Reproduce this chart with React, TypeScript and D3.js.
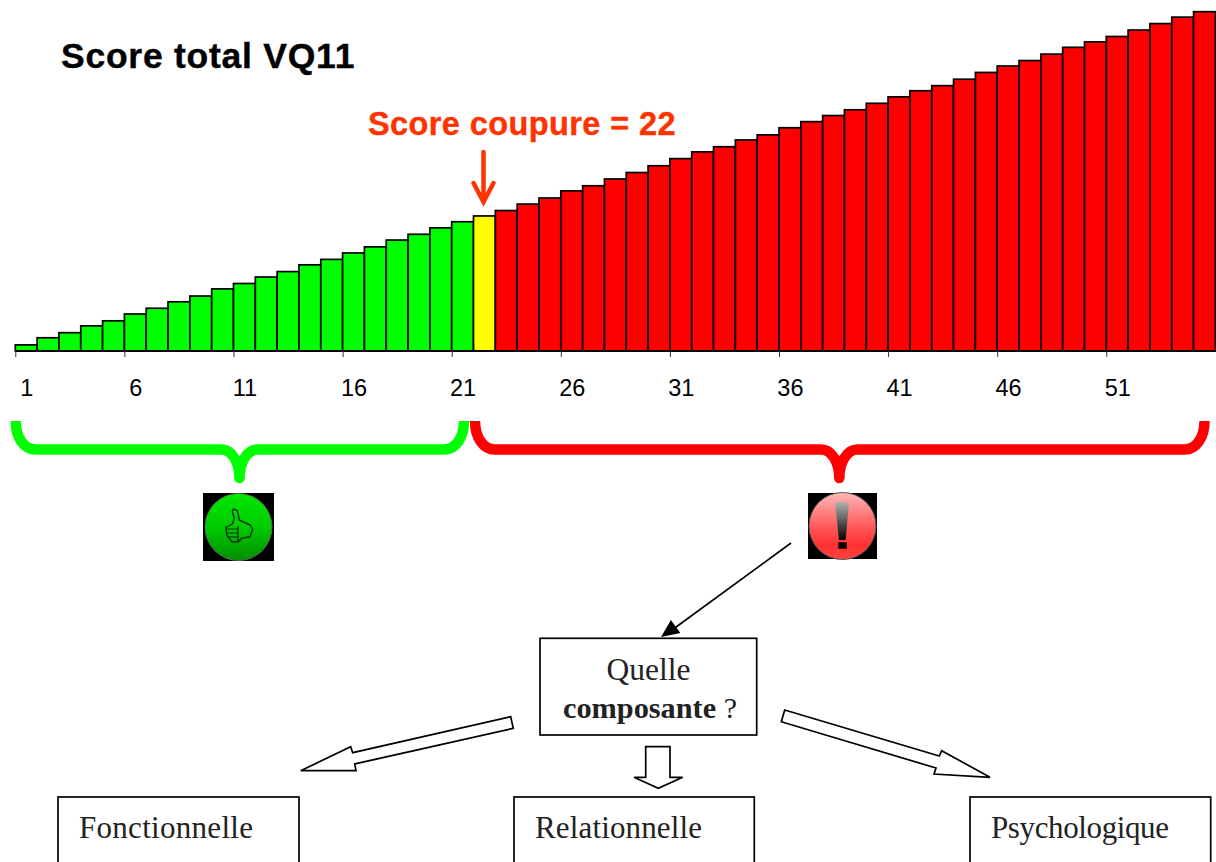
import React, { useEffect, useRef } from 'react';
import * as d3 from 'd3';

// cumulative share per score
const cumulative = [
  1.8, 3.9, 5.4, 7.4, 8.9, 10.9, 12.6, 14.5, 16.2, 18.3, 19.9, 21.8, 23.4, 25.4, 27.0, 28.9, 30.7, 32.7, 34.4, 36.3, 38.1,
  39.8,
  41.4, 43.3, 45.1, 47.2, 48.7, 50.7, 52.6, 54.6, 56.7, 58.7, 60.2, 62.2, 63.7, 65.8, 67.6, 69.4, 71.1, 73.0, 74.9, 76.7,
  78.2, 80.1, 82.1, 84.0, 85.6, 87.5, 89.5, 91.1, 92.7, 94.6, 96.5, 98.4, 100,
];
const tickRanks = [1, 6, 11, 16, 21, 26, 31, 36, 41, 46, 51];
const cutoff = 22;
const title = 'Score total VQ11';
const cutoffLabel = 'Score coupure = 22';
const components = ['Fonctionnelle', 'Relationnelle', 'Psychologique'];

const SANS = '"Liberation Sans", Arial, sans-serif';
const SERIF = '"Liberation Serif", Georgia, serif';

const App: React.FC = () => {
  const svgRef = useRef<SVGSVGElement>(null);

  useEffect(() => {
    if (!svgRef.current) return;
    const svg = d3.select(svgRef.current);
    svg.selectAll('*').remove();

    const x = d3.scaleLinear().domain([1, 56]).range([15.3, 1215.4]);
    const y = d3.scaleLinear().domain([0, 100]).range([351, 11.7]);
    const halfBand = (x(2) - x(1)) / 2;

    const defs = svg.append('defs');
    const grad = (id: string, stops: [string, string][]) => {
      const g = defs.append('linearGradient').attr('id', id).attr('x1', 0).attr('y1', 0).attr('x2', 0).attr('y2', 1);
      stops.forEach(([o, c]) => g.append('stop').attr('offset', o).attr('stop-color', c));
    };
    grad('greenBtn', [['0', '#00e800'], ['0.5', '#00cc00'], ['1', '#008c00']]);
    grad('redBtn', [['0', '#ffb8b8'], ['0.55', '#ff5252'], ['0.8', '#ff3030'], ['1', '#ff4444']]);
    grad('bang', [['0', '#b0b0b0'], ['1', '#000000']]);

    // title
    svg.append('text').attr('x', 61).attr('y', 68).attr('font-family', SANS).attr('font-weight', 700)
      .attr('font-size', 35.5).attr('letter-spacing', 0.75).attr('fill', '#000')
      .attr('stroke', '#000').attr('stroke-width', 0.4).text(title);

    svg.append('text').attr('x', 368).attr('y', 135).attr('font-family', SANS).attr('font-weight', 700)
      .attr('font-size', 32.5).attr('letter-spacing', 0.4).attr('fill', '#ff3300')
      .attr('stroke', '#ff3300').attr('stroke-width', 0.4).text(cutoffLabel);

    // cutoff arrow
    svg.append('path').attr('d', 'M483.5,152V202M473.5,183L483.5,202L493.5,183')
      .attr('fill', 'none').attr('stroke', '#ff3300').attr('stroke-width', 4.5).attr('stroke-linecap', 'round');

    // bars
    svg.append('g').selectAll('rect').data(cumulative).join('rect')
      .attr('x', (_, i) => x(i + 1))
      .attr('y', (d) => y(d))
      .attr('width', x(2) - x(1))
      .attr('height', (d) => y(0) - y(d))
      .attr('fill', (_, i) => (i + 1 < cutoff ? '#00ff00' : i + 1 === cutoff ? '#ffff00' : '#ff0000'))
      .attr('stroke', '#000')
      .attr('stroke-width', 1.7);

    // axis
    const axis = svg.append('g').attr('transform', `translate(0,${y(0)})`)
      .call(d3.axisBottom(x).tickValues(tickRanks).tickSizeInner(6).tickSizeOuter(0).tickPadding(22));
    axis.select('.domain').attr('stroke', '#000').attr('stroke-width', 2).attr('d', `M${x(1)},0H1216`);
    axis.selectAll('.tick line').attr('stroke', '#333').attr('stroke-width', 1);
    axis.selectAll('.tick text')
      .attr('dx', halfBand)
      .attr('fill', '#000')
      .attr('font-family', SANS)
      .attr('font-size', 23.5);

    // braces
    const brace = (x0: number, tip: number, x1: number, color: string) => {
      const d = `M${x0},421C${x0},437 ${x0 + 8},449.5 ${x0 + 20},449.5L${tip - 18},449.5`
        + `C${tip - 8},449.5 ${tip},462 ${tip},478C${tip},462 ${tip + 8},449.5 ${tip + 18},449.5`
        + `L${x1 - 20},449.5C${x1 - 8},449.5 ${x1},437 ${x1},421`;
      svg.append('path').attr('d', d).attr('fill', 'none').attr('stroke', color).attr('stroke-width', 10.5);
      svg.append('circle').attr('cx', tip).attr('cy', 478).attr('r', 5.25).attr('fill', color);
    };
    brace(15.7, 239.5, 464, '#00ff00');
    brace(475, 839.3, 1204.5, '#ff0000');

    // thumbs-up icon
    svg.append('rect').attr('x', 203).attr('y', 493).attr('width', 71).attr('height', 68).attr('fill', '#000');
    svg.append('circle').attr('cx', 238.5).attr('cy', 527).attr('r', 33.5).attr('fill', 'url(#greenBtn)')
      .attr('stroke', '#5a6a50').attr('stroke-width', 1);
    svg.append('path')
      .attr('d', 'M233.3,509L237.3,510.7L239.3,520L250,525L252.7,529.3L250,536.7L241.7,538.3L238.3,541.7L231.7,541.7L226.7,535L226,527.3L232.3,524L234.3,518.3L232.3,511.7Z')
      .attr('fill', 'none').attr('stroke', '#063006').attr('stroke-width', 1.4).attr('stroke-linejoin', 'round');
    svg.append('path').attr('d', 'M227,529H238M227,533H238M228,537H238M238,526V541')
      .attr('fill', 'none').attr('stroke', '#063006').attr('stroke-width', 1.2);

    // warning icon
    svg.append('rect').attr('x', 808).attr('y', 493).attr('width', 69).attr('height', 66).attr('fill', '#000');
    svg.append('circle').attr('cx', 842.5).attr('cy', 526).attr('r', 33.5).attr('fill', 'url(#redBtn)')
      .attr('stroke', '#555').attr('stroke-width', 1);
    svg.append('path').attr('d', 'M835,502.3H849L845.7,540H839Z').attr('fill', 'url(#bang)');
    svg.append('rect').attr('x', 838.3).attr('y', 542.3).attr('width', 8.4).attr('height', 6.4).attr('fill', '#000');

    const boxes = svg.append('g').attr('fill', '#fff').attr('stroke', '#000').attr('stroke-width', 1.7);
    boxes.append('rect').attr('x', 540).attr('y', 638.3).attr('width', 216.7).attr('height', 96.7);
    [[58, 241], [514, 240.3], [970, 240.7]].forEach(([bx, bw]) => {
      boxes.append('rect').attr('x', bx).attr('y', 797).attr('width', bw).attr('height', 80);
    });

    // arrow down to the question box
    svg.append('line').attr('x1', 791).attr('y1', 543).attr('x2', 672).attr('y2', 630)
      .attr('stroke', '#000').attr('stroke-width', 1.7);
    svg.append('path').attr('d', 'M661,637L670.9,620L680.3,633Z').attr('fill', '#000');

    // hollow arrows
    const hollow = [
      'M510.7,716.7L352.7,752.7L350.7,746.7L300.7,770.7L356,770.7L354.7,764L513.3,728.3Z',
      'M645.7,746.7H670V777.3H682.7L658.3,788.3L634,777.3H645.7Z',
      'M784.7,710L939.3,756L941.7,750.7L990,777.3L934,774L936,768L781.3,721.7Z',
    ];
    svg.append('g').selectAll('path').data(hollow).join('path').attr('d', (d) => d)
      .attr('fill', '#fff').attr('stroke', '#000').attr('stroke-width', 1.7);

    // serif labels
    svg.append('text').attr('x', 648.5).attr('y', 680).attr('text-anchor', 'middle').attr('font-family', SERIF)
      .attr('font-size', 31.5).attr('fill', '#222').text('Quelle');
    const q = svg.append('text').attr('x', 563).attr('y', 718).attr('font-family', SERIF)
      .attr('font-size', 30).attr('fill', '#222');
    q.append('tspan').attr('font-weight', 700).attr('font-size', 30.3).text('composante');
    q.append('tspan').text(' ?');
    const labelWidths = [174, 167, 178];
    [79, 535, 991].forEach((lx, i) => {
      svg.append('text').attr('x', lx).attr('y', 838).attr('font-family', SERIF)
        .attr('font-size', 31).attr('fill', '#222')
        .attr('textLength', labelWidths[i]).attr('lengthAdjust', 'spacing').text(components[i]);
    });
  }, []);

  return (
    <svg
      ref={svgRef}
      width={1216}
      height={862}
      style={{ position: 'absolute', left: 0, top: 0, background: '#fff' }}
      role="img"
      aria-label="Score total VQ11"
    />
  );
};

export default App;
